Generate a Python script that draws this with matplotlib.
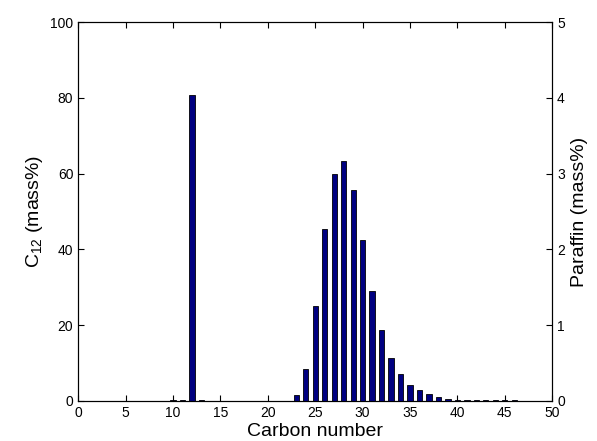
import matplotlib
matplotlib.use("Agg")
import matplotlib.pyplot as plt

plt.rcParams['font.family'] = ['Liberation Sans', 'DejaVu Sans']
plt.rcParams['mathtext.fontset'] = 'custom'
plt.rcParams['mathtext.rm'] = 'Liberation Sans'
plt.rcParams['mathtext.default'] = 'regular'

# C12 (left axis)
c12_carbon = [10, 11, 12, 13]
c12_mass = [0.15, 0.35, 80.7, 0.2]

# Paraffin distribution (right axis)
par_carbon = [23, 24, 25, 26, 27, 28, 29, 30, 31, 32, 33, 34, 35, 36, 37,
              38, 39, 40, 41, 42, 43, 44, 45, 46]
par_mass = [0.08, 0.42, 1.25, 2.27, 3.0, 3.16, 2.78, 2.12, 1.45, 0.93,
            0.57, 0.35, 0.21, 0.14, 0.09, 0.05, 0.03, 0.015, 0.01, 0.01,
            0.01, 0.01, 0.01, 0.01]

bar_color = '#000080'

fig = plt.figure(figsize=(5.97, 4.41), dpi=100)
ax = fig.add_axes([0.131, 0.091, 0.794, 0.859])
ax2 = ax.twinx()

ax.bar(c12_carbon, c12_mass, width=0.55, color=bar_color,
       edgecolor='black', linewidth=0.6)
ax2.bar(par_carbon, par_mass, width=0.55, color=bar_color,
        edgecolor='black', linewidth=0.6)

ax.set_xlim(0, 50)
ax.set_ylim(0, 100)
ax2.set_ylim(0, 5)
ax.set_xticks(range(0, 51, 5))
ax.set_yticks(range(0, 101, 20))
ax2.set_yticks(range(0, 6))

ax.tick_params(axis='x', direction='in', top=True, labelsize=10, length=4)
ax.tick_params(axis='y', direction='in', right=False, labelsize=10, length=4)
ax2.tick_params(axis='y', direction='in', labelsize=10, length=4)

ax.set_xlabel('Carbon number', fontsize=14, labelpad=2)
ax.set_ylabel('C$_{12}$ (mass%)', fontsize=14)
ax2.set_ylabel('Paraffin (mass%)', fontsize=14)

for a in (ax, ax2):
    for s in a.spines.values():
        s.set_linewidth(0.8)

fig.savefig('out.png', dpi=100)
